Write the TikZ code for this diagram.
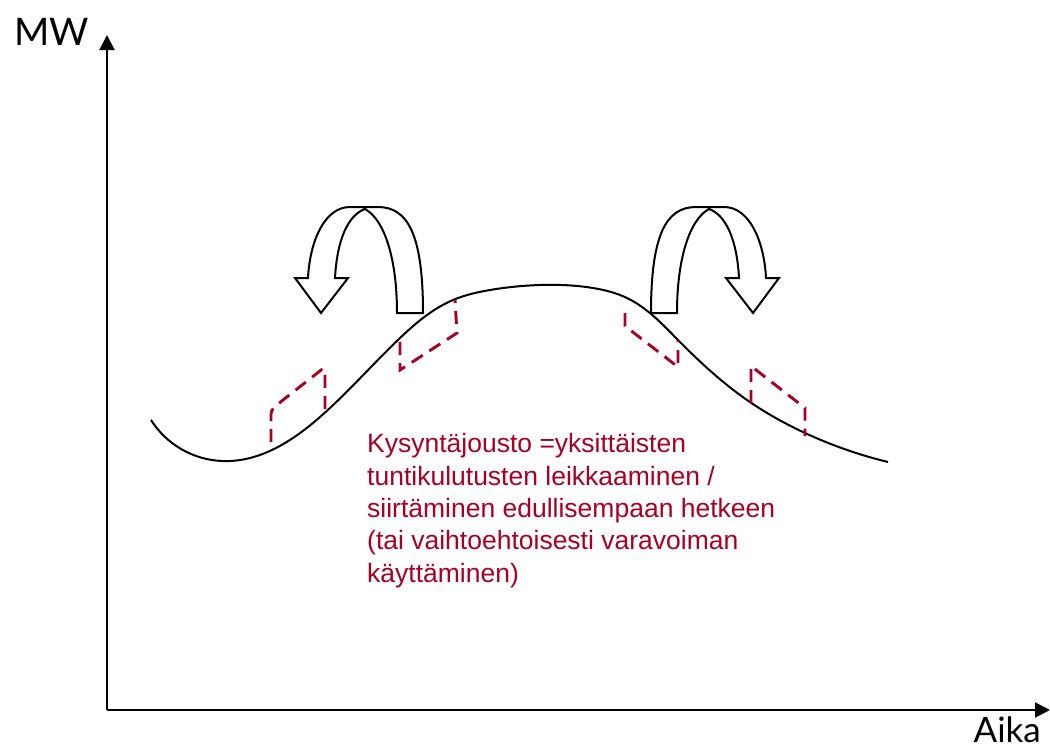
\documentclass[tikz,border=0pt]{standalone}
\usepackage{fontspec}
\setmainfont{Liberation Sans}
\newfontfamily\axisfont{Lato}
\usetikzlibrary{arrows.meta,hobby}
\definecolor{dred}{RGB}{165,0,33}
\tikzset{
  axisline/.style={line width=2pt,-{Triangle[length=15pt,width=15pt]}},
  demand/.style={line width=2pt,use Hobby shortcut},
  shiftarrow/.style={line width=2pt,fill=white,line join=miter},
  cutline/.style={dred,line width=2.9pt,dash pattern=on 13pt off 8pt},
  axislabel/.style={font=\axisfont\fontsize{38}{40}\selectfont,inner sep=0pt},
  note/.style={dred,font=\fontsize{26.5}{32.3}\selectfont,align=left,inner sep=0pt}
}
\begin{document}
\begin{tikzpicture}[x=1pt,y=-1pt]
\useasboundingbox (0,0) rectangle (1050,750);
% axes
\coordinate (O) at (107,710);
\coordinate (Ytip) at (107,35);
\coordinate (Xtip) at (1050,710);
\draw[axisline] (O) -- (Ytip);
\draw[axisline] (O) -- (Xtip);
\node[axislabel,anchor=base west] (mw) at (14,45) {MW};
\node[axislabel,font=\axisfont\fontsize{35}{37}\selectfont,anchor=base east] (aika) at (1041,742) {Aika};
% demand curve
\draw[demand] (151,420) .. (222,461) .. (320,417) .. (400,338) .. (453,300) .. (490,290) .. (540,285) .. (593,288) .. (627,298) .. (678,340) .. (747,400) .. (805,433) .. (888,462);
% curved arrows
\draw[shiftarrow] (423,313) .. controls (423,235) and (408,207) .. (378,207) -- (350,207)
  .. controls (325,207) and (310,240) .. (308,278) -- (295,278) -- (321,313) -- (348,278) -- (335,278)
  .. controls (337,240) and (348,215) .. (365,209)
  .. controls (385,220) and (397,260) .. (397,313) -- cycle;
\draw[shiftarrow] (651,313) .. controls (651,235) and (666,207) .. (696,207) -- (724,207)
  .. controls (749,207) and (764,240) .. (766,278) -- (779,278) -- (753,313) -- (726,278) -- (739,278)
  .. controls (737,240) and (726,215) .. (709,209)
  .. controls (689,220) and (677,260) .. (677,313) -- cycle;
% dashed cuts
\draw[cutline,rounded corners=4pt] (271,442) -- (271,410) -- (283,400) -- (325,367) -- (325,411);
\draw[cutline] (400,342) -- (400,370) -- (457,333) -- (455,300);
\draw[cutline] (625,313) -- (625,326) -- (678,367) -- (678,340);
\draw[cutline] (751,403) -- (751,366) -- (805,408) -- (805,436);
% note
\node[note,anchor=base west] (txt) at (367,582) {Kysyntäjousto =yksittäisten\\tuntikulutusten leikkaaminen /\\siirtäminen edullisempaan hetkeen\\(tai vaihtoehtoisesti varavoiman\\käyttäminen)};
\end{tikzpicture}
\end{document}
